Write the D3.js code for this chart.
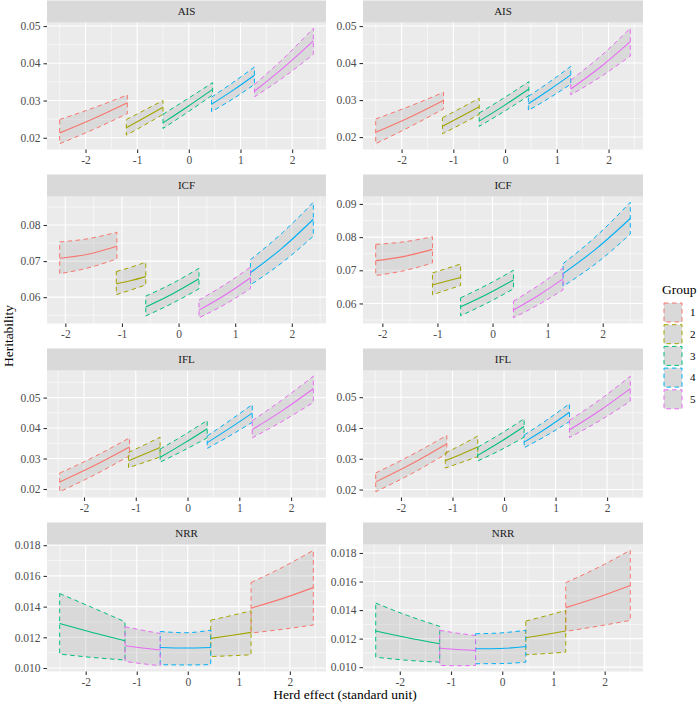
<!DOCTYPE html>
<html><head><meta charset="utf-8">
<script src="https://cdn.jsdelivr.net/npm/d3@7"></script>
<style>body{margin:0;background:#fff}svg{display:block}text{font-family:'Liberation Serif','Times New Roman',Times,serif}</style>
</head><body>
<svg id="chart" width="698" height="703"></svg>
<script>
// ---------------- data ----------------
const groups = [1, 2, 3, 4, 5];
const groupColors = ["#F8766D", "#A3A500", "#00BF7D", "#00B0F6", "#E76BF3"];
const traits = ["AIS", "ICF", "IFL", "NRR"];
const xTicks = [-2, -1, 0, 1, 2];
const xTickLabels = ["-2", "-1", "0", "1", "2"];
const yTicksAIS = [0.02, 0.03, 0.04, 0.05];
const yTicksICFLeft = [0.06, 0.07, 0.08];
const yTicksICFRight = [0.06, 0.07, 0.08, 0.09];
const yTicksIFL = [0.02, 0.03, 0.04, 0.05];
const yTicksNRR = [0.010, 0.012, 0.014, 0.016, 0.018];

// rows: [group, herd effect, heritability fit, lower, upper]
const aisLeft = [
  [1,-2.50,0.0213,0.0184,0.0249],[1,-1.85,0.0251,0.0222,0.0280],[1,-1.19,0.0294,0.0265,0.0315],
  [2,-1.21,0.0227,0.0207,0.0249],[2,-0.86,0.0254,0.0234,0.0274],[2,-0.50,0.0282,0.0263,0.0300],
  [3,-0.50,0.0240,0.0225,0.0263],[3,-0.02,0.0284,0.0269,0.0305],[3,0.46,0.0330,0.0315,0.0348],
  [4,0.44,0.0290,0.0270,0.0309],[4,0.86,0.0328,0.0305,0.0349],[4,1.27,0.0368,0.0343,0.0390],
  [5,1.27,0.0325,0.0310,0.0343],[5,1.84,0.0389,0.0363,0.0414],[5,2.41,0.0460,0.0424,0.0494]
];
const aisRight = [
  [1,-2.50,0.0213,0.0182,0.0249],[1,-1.85,0.0253,0.0227,0.0283],[1,-1.19,0.0299,0.0276,0.0321],
  [2,-1.21,0.0229,0.0209,0.0252],[2,-0.86,0.0255,0.0234,0.0278],[2,-0.50,0.0282,0.0261,0.0305],
  [3,-0.50,0.0243,0.0229,0.0265],[3,-0.02,0.0285,0.0269,0.0306],[3,0.46,0.0330,0.0312,0.0350],
  [4,0.45,0.0290,0.0272,0.0310],[4,0.86,0.0328,0.0306,0.0349],[4,1.27,0.0368,0.0343,0.0391],
  [5,1.27,0.0330,0.0314,0.0354],[5,1.85,0.0390,0.0363,0.0419],[5,2.42,0.0458,0.0419,0.0494]
];
const icfLeft = [
  [1,-2.10,0.0708,0.0665,0.0753],[1,-1.60,0.0719,0.0681,0.0762],[1,-1.09,0.0741,0.0706,0.0780],
  [2,-1.10,0.0637,0.0607,0.0671],[2,-0.84,0.0646,0.0620,0.0683],[2,-0.58,0.0657,0.0634,0.0697],
  [3,-0.58,0.0573,0.0548,0.0603],[3,-0.11,0.0609,0.0583,0.0638],[3,0.36,0.0651,0.0623,0.0680],
  [4,1.27,0.0668,0.0634,0.0704],[4,1.83,0.0736,0.0696,0.0778],[4,2.38,0.0816,0.0769,0.0863],
  [5,0.36,0.0564,0.0543,0.0592],[5,0.82,0.0606,0.0580,0.0635],[5,1.27,0.0654,0.0624,0.0683]
];
const icfRight = [
  [1,-2.12,0.0729,0.0684,0.0778],[1,-1.60,0.0742,0.0699,0.0786],[1,-1.09,0.0763,0.0722,0.0801],
  [2,-1.09,0.0656,0.0626,0.0692],[2,-0.84,0.0667,0.0640,0.0705],[2,-0.58,0.0678,0.0654,0.0719],
  [3,-0.58,0.0590,0.0563,0.0617],[3,-0.10,0.0628,0.0601,0.0656],[3,0.38,0.0671,0.0644,0.0700],
  [4,1.28,0.0690,0.0652,0.0720],[4,1.89,0.0766,0.0722,0.0804],[4,2.50,0.0856,0.0809,0.0905],
  [5,0.38,0.0580,0.0557,0.0607],[5,0.83,0.0624,0.0596,0.0654],[5,1.28,0.0674,0.0641,0.0707]
];
const iflLeft = [
  [1,-2.47,0.0223,0.0191,0.0252],[1,-1.80,0.0277,0.0246,0.0306],[1,-1.12,0.0338,0.0309,0.0368],
  [2,-1.14,0.0293,0.0270,0.0320],[2,-0.84,0.0314,0.0287,0.0344],[2,-0.53,0.0336,0.0305,0.0370],
  [3,-0.53,0.0304,0.0288,0.0331],[3,-0.08,0.0349,0.0326,0.0376],[3,0.38,0.0398,0.0368,0.0425],
  [4,0.38,0.0352,0.0333,0.0374],[4,0.81,0.0399,0.0374,0.0424],[4,1.25,0.0449,0.0419,0.0477],
  [5,1.25,0.0395,0.0368,0.0424],[5,1.84,0.0458,0.0423,0.0494],[5,2.43,0.0529,0.0484,0.0570]
];
const iflRight = [
  [1,-2.49,0.0225,0.0193,0.0254],[1,-1.80,0.0283,0.0251,0.0312],[1,-1.11,0.0349,0.0317,0.0376],
  [2,-1.14,0.0294,0.0270,0.0319],[2,-0.83,0.0315,0.0288,0.0345],[2,-0.51,0.0338,0.0307,0.0374],
  [3,-0.51,0.0311,0.0293,0.0338],[3,-0.06,0.0356,0.0329,0.0382],[3,0.39,0.0405,0.0370,0.0430],
  [4,0.39,0.0354,0.0336,0.0377],[4,0.83,0.0400,0.0376,0.0426],[4,1.27,0.0451,0.0421,0.0479],
  [5,1.27,0.0394,0.0369,0.0425],[5,1.86,0.0457,0.0424,0.0492],[5,2.45,0.0528,0.0487,0.0568]
];
const nrrLeft = [
  [3,-2.51,0.01290,0.01091,0.01485],[3,-1.87,0.01232,0.01069,0.01394],[3,-1.23,0.01178,0.01052,0.01301],
  [5,-1.23,0.01145,0.01043,0.01269],[5,-0.885,0.01130,0.01028,0.01246],[5,-0.54,0.01117,0.01015,0.01225],
  [4,-0.54,0.01134,0.01022,0.01238],[4,-0.05,0.01130,0.01020,0.01230],[4,0.45,0.01134,0.01022,0.01247],
  [2,0.45,0.01193,0.01075,0.01312],[2,0.845,0.01212,0.01080,0.01341],[2,1.24,0.01232,0.01086,0.01373],
  [1,1.24,0.01390,0.01228,0.01557],[1,1.85,0.01452,0.01252,0.01655],[1,2.46,0.01524,0.01280,0.01767]
];
const nrrRight = [
  [3,-2.47,0.01253,0.01070,0.01449],[3,-1.85,0.01206,0.01048,0.01362],[3,-1.22,0.01164,0.01035,0.01286],
  [5,-1.22,0.01133,0.01012,0.01258],[5,-0.87,0.01124,0.01010,0.01238],[5,-0.52,0.01117,0.01012,0.01222],
  [4,-0.52,0.01129,0.01024,0.01234],[4,-0.03,0.01131,0.01025,0.01240],[4,0.46,0.01145,0.01035,0.01258],
  [2,0.46,0.01206,0.01087,0.01323],[2,0.85,0.01229,0.01095,0.01359],[2,1.24,0.01253,0.01105,0.01398],
  [1,1.24,0.01417,0.01251,0.01592],[1,1.87,0.01490,0.01287,0.01698],[1,2.50,0.01573,0.01328,0.01819]
];

// ---------------- layout ----------------
const FONT = "'Liberation Serif','Times New Roman',Times,serif";
const colX = [[47, 326], [363, 643]];
const rowTop = [0.5, 174.5, 348.5, 522.5];
const stripH = 22, panelH = 127;

const panels = [
  {trait: traits[0], col: 0, row: 0, data: aisLeft, yTicks: yTicksAIS, fmt: ".2f"},
  {trait: traits[0], col: 1, row: 0, data: aisRight, yTicks: yTicksAIS, fmt: ".2f"},
  {trait: traits[1], col: 0, row: 1, data: icfLeft, yTicks: yTicksICFLeft, fmt: ".2f"},
  {trait: traits[1], col: 1, row: 1, data: icfRight, yTicks: yTicksICFRight, fmt: ".2f"},
  {trait: traits[2], col: 0, row: 2, data: iflLeft, yTicks: yTicksIFL, fmt: ".2f"},
  {trait: traits[2], col: 1, row: 2, data: iflRight, yTicks: yTicksIFL, fmt: ".2f"},
  {trait: traits[3], col: 0, row: 3, data: nrrLeft, yTicks: yTicksNRR, fmt: ".3f"},
  {trait: traits[3], col: 1, row: 3, data: nrrRight, yTicks: yTicksNRR, fmt: ".3f"}
];

const color = d3.scaleOrdinal().domain(groups).range(groupColors);
const svg = d3.select("#chart");
svg.append("rect").attr("width", 698).attr("height", 703).attr("fill", "#fff");

function expand(ext) {
  const p = (ext[1] - ext[0]) * 0.05;
  return [ext[0] - p, ext[1] + p];
}
function minorBreaks(major, dom) {
  const step = major[1] - major[0];
  const out = [];
  for (let i = -1; i < major.length; i++) {
    const v = major[0] + (i + 0.5) * step;
    if (v >= dom[0] && v <= dom[1]) out.push(v);
  }
  return out;
}

panels.forEach((p, pi) => {
  const [px0, px1] = colX[p.col];
  const sTop = rowTop[p.row];
  const py0 = sTop + stripH, py1 = py0 + panelH;
  const xDom = expand(d3.extent(p.data, d => d[1]));
  const yDom = expand([d3.min(p.data, d => d[3]), d3.max(p.data, d => d[4])]);
  const x = d3.scaleLinear().domain(xDom).range([px0, px1]);
  const y = d3.scaleLinear().domain(yDom).range([py1, py0]);

  const g = svg.append("g");
  g.append("rect").attr("x", px0).attr("y", py0).attr("width", px1 - px0).attr("height", panelH).attr("fill", "#EBEBEB");

  const yMinor = minorBreaks(p.yTicks, yDom);
  const xMinor = minorBreaks(xTicks, xDom);
  g.selectAll(".ymin").data(yMinor).join("line")
    .attr("x1", px0).attr("x2", px1).attr("y1", d => y(d)).attr("y2", d => y(d))
    .attr("stroke", "#fff").attr("stroke-width", 0.55);
  g.selectAll(".xmin").data(xMinor).join("line")
    .attr("y1", py0).attr("y2", py1).attr("x1", d => x(d)).attr("x2", d => x(d))
    .attr("stroke", "#fff").attr("stroke-width", 0.55);
  g.selectAll(".ymaj").data(p.yTicks).join("line")
    .attr("x1", px0).attr("x2", px1).attr("y1", d => y(d)).attr("y2", d => y(d))
    .attr("stroke", "#fff").attr("stroke-width", 1.1);
  g.selectAll(".xmaj").data(xTicks).join("line")
    .attr("y1", py0).attr("y2", py1).attr("x1", d => x(d)).attr("x2", d => x(d))
    .attr("stroke", "#fff").attr("stroke-width", 1.1);

  // strip
  g.append("rect").attr("x", px0).attr("y", sTop).attr("width", px1 - px0).attr("height", stripH).attr("fill", "#D9D9D9");
  g.append("text").attr("x", (px0 + px1) / 2).attr("y", sTop + stripH / 2).attr("dy", "0.35em")
    .attr("text-anchor", "middle").style("font-family", FONT).style("font-size", "11px").style("font-weight", "normal")
    .attr("fill", "#1A1A1A").text(p.trait);

  // clip
  const cid = "clip" + pi;
  svg.append("clipPath").attr("id", cid).append("rect")
    .attr("x", px0).attr("y", py0).attr("width", px1 - px0).attr("height", panelH);
  const dg = g.append("g").attr("clip-path", `url(#${cid})`);

  const area = d3.area().x(d => x(d[1])).y0(d => y(d[3])).y1(d => y(d[4])).curve(d3.curveMonotoneX);
  const line = d3.line().x(d => x(d[1])).y(d => y(d[2])).curve(d3.curveMonotoneX);
  const byGroup = groups.map(k => p.data.filter(r => r[0] === k).sort((a, b) => a[1] - b[1]));
  byGroup.forEach((rows, i) => {
    dg.append("path").attr("d", area(rows))
      .attr("fill", "#999").attr("fill-opacity", 0.22)
      .attr("stroke", color(groups[i])).attr("stroke-width", 1).attr("stroke-dasharray", "4.5,3.5");
  });
  byGroup.forEach((rows, i) => {
    dg.append("path").attr("d", line(rows)).attr("fill", "none")
      .attr("stroke", color(groups[i])).attr("stroke-width", 1.1);
  });

  // axes
  const ax = g.append("g").attr("transform", `translate(${px0},0)`)
    .call(d3.axisLeft(y).tickValues(p.yTicks).tickFormat(d3.format(p.fmt)).tickSize(3.5).tickPadding(3));
  const bx = g.append("g").attr("transform", `translate(0,${py1})`)
    .call(d3.axisBottom(x).tickValues(xTicks).tickFormat((d, i) => xTickLabels[i]).tickSize(3.5).tickPadding(2.5));
  [ax, bx].forEach(a => {
    a.attr("font-family", null).attr("font-size", null);
    a.select(".domain").remove();
    a.selectAll(".tick line").attr("stroke", "#333333").attr("stroke-width", 1.1);
    a.selectAll(".tick text").attr("fill", "#4D4D4D").style("font-family", FONT).style("font-size", "11.5px");
  });
});

// axis titles
svg.append("text").attr("x", (colX[0][0] + colX[1][1]) / 2).attr("y", 698.5)
  .attr("text-anchor", "middle").style("font-family", FONT).style("font-size", "13.5px").attr("fill", "#000")
  .text("Herd effect (standard unit)");
svg.append("text").attr("transform", "translate(13,336) rotate(-90)")
  .attr("text-anchor", "middle").style("font-family", FONT).style("font-size", "13.5px").attr("fill", "#000")
  .text("Heritability");

// legend
const lg = svg.append("g");
lg.append("text").attr("x", 662).attr("y", 293.5).style("font-family", FONT).style("font-size", "13.5px").attr("fill", "#000").text("Group");
groups.forEach((k, i) => {
  const ky = 303 + i * 21.7;
  lg.append("rect").attr("x", 664).attr("y", ky).attr("width", 18).attr("height", 19)
    .attr("fill", "#D9D9D9").attr("stroke", color(k)).attr("stroke-width", 1).attr("stroke-dasharray", "4.5,3.5");
  lg.append("text").attr("x", 690).attr("y", ky + 9.5).attr("dy", "0.35em")
    .style("font-family", FONT).style("font-size", "11px").attr("fill", "#000").text(k);
});
</script>
</body></html>
